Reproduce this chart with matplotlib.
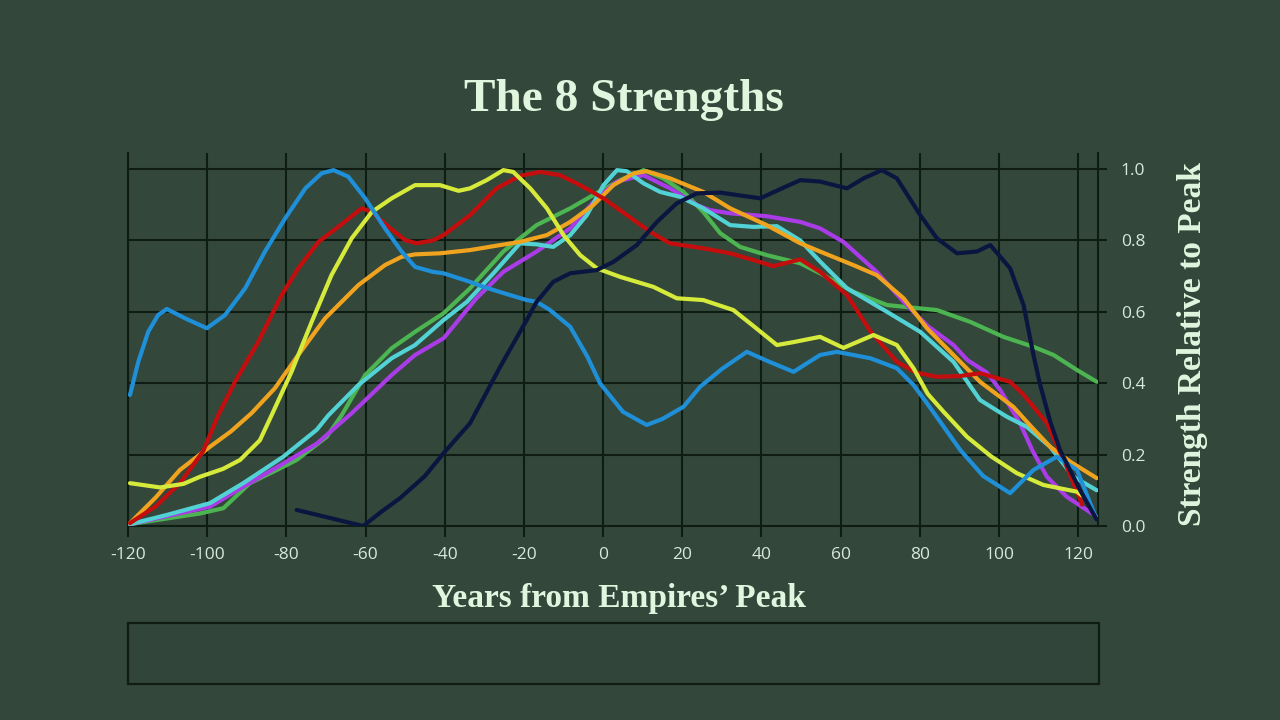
import matplotlib
matplotlib.use("Agg")
import matplotlib.pyplot as plt
from matplotlib.patches import Rectangle

# ---------------- data ----------------
blue_x = [-119.5, -117.4, -114.9, -112.4, -110.2, -105.6, -100.1, -95.5, -90.4, -85.4, -80.3, -75.2, -71.1,
          -68.1, -64.4, -60.1, -55.1, -50.9, -47.5, -43, -40.3, -33.6, -30.2, -25, -19.3, -16.8, -13.4, -8.3,
          -4, -0.8, 5, 11, 15, 20.3, 24.5, 30, 36.3, 42, 48.1, 54.8, 59, 67.5, 74.2, 78.4, 81.8, 90.2, 96,
          102.8, 108.7, 114.6, 119.7, 124.7]
blue_y = [0.367, 0.46, 0.544, 0.591, 0.608, 0.582, 0.554, 0.591, 0.666, 0.769, 0.862, 0.946, 0.988,
          0.997, 0.979, 0.918, 0.834, 0.769, 0.726, 0.712, 0.708, 0.684, 0.67, 0.652, 0.633, 0.628, 0.605, 0.558,
          0.475, 0.40, 0.32, 0.283, 0.30, 0.334, 0.39, 0.44, 0.488, 0.46, 0.432, 0.479, 0.488, 0.47, 0.442, 0.395,
          0.344, 0.213, 0.14, 0.092, 0.157, 0.194, 0.157, 0.017]

red_x = [-119.5, -113, -106.9, -101, -97.2, -93, -87.1, -81.2, -77, -71.9, -66.9, -61, -58.4, -54.2, -50,
         -47.1, -43, -40.3, -33.6, -26.9, -21, -15.9, -10.9, -5.8, 0.1, 6, 11.9, 16.9, 25.3, 32.1, 38, 43,
         49.8, 54.8, 61.6, 67.6, 74.2, 79, 84.3, 90, 95.2, 102.8, 106, 109, 112.1, 117.1, 121]
red_y = [0.008, 0.055, 0.12, 0.21, 0.311, 0.404, 0.516, 0.647, 0.722, 0.796, 0.838, 0.89, 0.88, 0.838, 0.801,
         0.792, 0.80, 0.815, 0.871, 0.946, 0.981, 0.992, 0.983, 0.955, 0.918, 0.871, 0.824, 0.792, 0.778, 0.764, 0.745, 0.728,
         0.747, 0.712, 0.647, 0.544, 0.46, 0.43, 0.418, 0.42, 0.428, 0.404, 0.37, 0.33, 0.288, 0.166, 0.06]

yellow_x = [-119.5, -111.9, -106, -101.8, -96, -91.7, -86.7, -83.7, -78.7, -73.6, -68.6, -63.5, -58.4, -53.4,
            -47.5, -41.2, -36.5, -33.6, -29.4, -25.2, -22.7, -18.4, -14.2, -10, -5.8, -1.6, 4.3, 12.7, 18.6,
            25.3, 32.9, 38, 43.9, 48, 54.8, 60.7, 68.3, 74.2, 78.4, 82, 86, 91.9, 98, 104.5, 111.2, 119.7, 121]
yellow_y = [0.12, 0.108, 0.118, 0.138, 0.16, 0.185, 0.24, 0.311, 0.432, 0.572, 0.703, 0.806, 0.88, 0.918,
            0.955, 0.955, 0.939, 0.946, 0.969, 0.997, 0.992, 0.946, 0.89, 0.815, 0.759, 0.722, 0.698, 0.67, 0.638,
            0.633, 0.605, 0.56, 0.507, 0.515, 0.53, 0.499, 0.535, 0.507, 0.442, 0.37, 0.32, 0.25, 0.195, 0.148, 0.115, 0.096, 0.085]

orange_x = [-119.5, -113, -106.9, -99.3, -94, -88.8, -82.9, -77, -70.2, -61.8, -55.1, -50.9, -47.5, -41.2,
            -33.6, -26, -21, -14.2, -8.3, -2.5, 2.6, 7.7, 11, 16.9, 25.3, 32.1, 41.3, 49.8, 54.8, 63.2, 69.1,
            75.9, 81.8, 88.5, 95.2, 103.6, 108, 112.9, 118, 124.7]
orange_y = [0.008, 0.08, 0.157, 0.222, 0.265, 0.316, 0.386, 0.479, 0.582, 0.675, 0.731, 0.754, 0.761, 0.764,
            0.773, 0.787, 0.796, 0.815, 0.852, 0.899, 0.955, 0.988, 0.994, 0.974, 0.936, 0.89, 0.843, 0.792, 0.769, 0.731, 0.703,
            0.638, 0.554, 0.479, 0.404, 0.334, 0.28, 0.222, 0.18, 0.134]

green_x = [-119.5, -110.2, -101.8, -95.9, -89.2, -82.4, -77.4, -69.8, -66, -60.1, -53.4, -47.5, -40.3, -33.6,
           -25.2, -16.8, -8.3, -2.5, 4.3, 10.2, 15.2, 20.3, 25.3, 29.6, 34.6, 41.3, 49.8, 54.8, 63.2, 71.7,
           84.3, 92.7, 101.1, 108.7, 113.8, 119.7, 124.7]
green_y = [0.005, 0.021, 0.035, 0.05, 0.12, 0.157, 0.185, 0.25, 0.311, 0.423, 0.498, 0.544, 0.596, 0.666,
           0.769, 0.843, 0.89, 0.927, 0.969, 0.997, 0.974, 0.936, 0.88, 0.82, 0.782, 0.759, 0.736, 0.708, 0.656, 0.619,
           0.605, 0.572, 0.53, 0.502, 0.479, 0.437, 0.404]

cyan_x = [-119.5, -110.2, -99.3, -90.9, -80.8, -72.3, -69.4, -61.8, -53.4, -47.5, -40.3, -34.4, -27.7, -21,
          -16.8, -12.6, -8.3, -4.1, 0.1, 3.5, 6, 10.2, 14.4, 19.5, 25.3, 32.1, 38, 43.9, 49.8, 54.8, 61.6,
          71.7, 80.1, 88.5, 95.2, 102, 107, 112.9, 118.8, 124.7]
cyan_y = [0.005, 0.031, 0.064, 0.12, 0.194, 0.27, 0.31, 0.395, 0.47, 0.507, 0.577, 0.628, 0.708, 0.792,
          0.789, 0.782, 0.815, 0.871, 0.955, 0.997, 0.994, 0.96, 0.936, 0.922, 0.89, 0.843, 0.838, 0.840, 0.80, 0.741, 0.666,
          0.60, 0.544, 0.46, 0.353, 0.306, 0.278, 0.222, 0.138, 0.10]

purple_x = [-119.5, -110, -99.3, -90.9, -80.8, -72.3, -63.5, -53.4, -47.5, -40.3, -32, -25.2, -16.8, -8.3,
            -1.6, 3.5, 10.2, 16.9, 23.7, 27, 32.1, 41.3, 49.8, 54.8, 60.7, 69.1, 75.9, 82, 88.5, 92, 96.9,
            100.3, 105.3, 108.5, 112.1, 117.1, 124.7]
purple_y = [0.005, 0.028, 0.054, 0.11, 0.175, 0.231, 0.316, 0.423, 0.479, 0.526, 0.638, 0.712, 0.769, 0.834,
            0.918, 0.965, 0.983, 0.946, 0.899, 0.885, 0.876, 0.868, 0.852, 0.834, 0.796, 0.712, 0.628, 0.56, 0.507, 0.465, 0.43,
            0.381, 0.288, 0.21, 0.138, 0.082, 0.026]

navy_x = [-77.4, -60.6, -56, -51.3, -45, -40.3, -33.6, -26, -19.3, -16.8, -12.6, -8.3, -1.6, 2.6, 8.5, 13.6,
          18.6, 23.7, 29.6, 34, 39.7, 44, 49.8, 54.8, 61.6, 65.8, 70.4, 74.2, 80.1, 84.3, 89.4, 94.4, 97.8,
          102.8, 106.2, 108.7, 110.4, 113, 115.4, 120.5, 124.7]
navy_y = [0.045, 0.0, 0.04, 0.078, 0.14, 0.204, 0.288, 0.446, 0.577, 0.628, 0.684, 0.708, 0.717, 0.74, 0.787, 0.852,
          0.904, 0.932, 0.934, 0.927, 0.918, 0.94, 0.969, 0.965, 0.946, 0.974, 0.997, 0.974, 0.871, 0.806, 0.764, 0.769, 0.787,
          0.722, 0.619, 0.479, 0.395, 0.29, 0.213, 0.10, 0.017]

x_ticks = [-120, -100, -80, -60, -40, -20, 0, 20, 40, 60, 80, 100, 120]
y_ticks = [0.0, 0.2, 0.4, 0.6, 0.8, 1.0]
title = "The 8 Strengths"
x_label = "Years from Empires\u2019 Peak"
y_label = "Strength Relative to Peak"

# ---------------- style ----------------
BG = "#33473a"
GRID = "#0f1c13"
TXT = "#e2f6df"
TICKTXT = "#d8e8da"

series = [
    (green_x, green_y, "#4cb551"),
    (purple_x, purple_y, "#a93ce6"),
    (cyan_x, cyan_y, "#52d2d4"),
    (orange_x, orange_y, "#f0a31f"),
    (red_x, red_y, "#c40e0e"),
    (yellow_x, yellow_y, "#d6ea3c"),
    (blue_x, blue_y, "#1f8fd8"),
    (navy_x, navy_y, "#0b1640"),
]

fig = plt.figure(figsize=(12.8, 7.2), dpi=100, facecolor=BG)
ax = fig.add_axes([128 / 1280, 1 - 526 / 720, 970 / 1280, 373 / 720])
ax.set_facecolor(BG)

for xs, ys, c in series:
    ax.plot(xs, ys, color=c, lw=3.0, solid_joinstyle="round", solid_capstyle="round", zorder=3)

ax.set_xlim(-120, 125)
ax.set_ylim(0, 1.045)
ax.set_xticks(x_ticks)
ax.set_xticklabels([str(t) for t in x_ticks])
ax.set_yticks(y_ticks)
ax.set_yticklabels([f"{t:.1f}" for t in y_ticks])
ax.yaxis.tick_right()
ax.grid(True, color=GRID, lw=1.5, zorder=1)
ax.set_axisbelow(True)

ax.spines["top"].set_visible(False)
for side in ["left", "right", "bottom"]:
    ax.spines[side].set_color(GRID)
    ax.spines[side].set_linewidth(1.5)

ax.tick_params(axis="x", direction="out", length=8, width=1.5, color=GRID, pad=7,
               labelsize=12.5, labelcolor=TICKTXT)
ax.tick_params(axis="y", direction="out", length=6.5, width=1.5, color=GRID, pad=10,
               labelsize=12.5, labelcolor=TICKTXT, left=False, right=True)
for lab in ax.get_xticklabels() + ax.get_yticklabels():
    lab.set_fontfamily(["Open Sans", "DejaVu Sans"])

serif = ["Liberation Serif", "DejaVu Serif"]
fig.text(624 / 1280, 1 - 100 / 720, title, ha="center", va="center", fontsize=34,
         fontweight="bold", family=serif, color=TXT)
fig.text(619 / 1280, 1 - 599 / 720, x_label, ha="center", va="center", fontsize=24,
         fontweight="bold", family=serif, color=TXT)
fig.text(1193 / 1280, 1 - 344 / 720, y_label, ha="center", va="center", fontsize=24,
         fontweight="bold", family=serif, color=TXT, rotation=90)

fig.patches.append(Rectangle((128 / 1280, 1 - 684 / 720), 971 / 1280, 61 / 720,
                             transform=fig.transFigure, facecolor="#31453a",
                             edgecolor=GRID, lw=1.6))

fig.savefig("out.png", dpi=100, facecolor=BG)
